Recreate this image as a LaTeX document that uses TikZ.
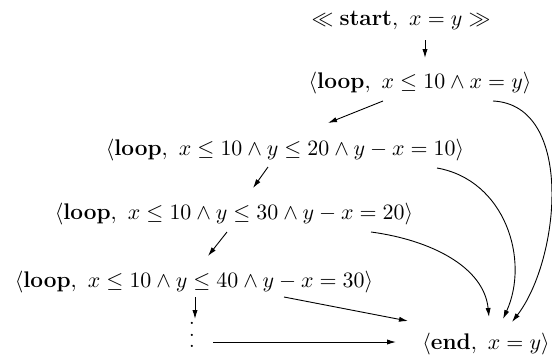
\documentclass[tikz,border=0pt]{standalone}
\usetikzlibrary{arrows.meta}
\begin{document}
\begin{tikzpicture}[x=0.5pt,y=-0.5pt,
  lbl/.style={inner sep=0pt, font=\fontsize{11.3}{14}\selectfont},
  dotcol/.style={inner sep=0pt, align=center, font=\fontsize{11.3}{5.8}\selectfont},
  arr/.style={-{Latex[length=4.5pt,width=2.6pt]}, line width=0.45pt}]
\useasboundingbox (0,0) rectangle (552,359);
\node[lbl] (start) at (401,20) {$\ll \mbox{\textbf{start}},\ x = y \gg$};
\node[lbl] (loop0) at (420,83) {$\langle \mbox{\textbf{loop}},\ x \leq 10 \wedge x = y\rangle$};
\node[lbl] (loop1) at (285,150) {$\langle \mbox{\textbf{loop}},\ x \leq 10 \wedge y \leq 20 \wedge y - x = 10\rangle$};
\node[lbl] (loop2) at (234,214) {$\langle \mbox{\textbf{loop}},\ x \leq 10 \wedge y \leq 30 \wedge y - x = 20\rangle$};
\node[lbl] (loop3) at (194,282) {$\langle \mbox{\textbf{loop}},\ x \leq 10 \wedge y \leq 40 \wedge y - x = 30\rangle$};
\node[lbl] (end) at (486,344) {$\langle \mbox{\textbf{end}},\ x = y\rangle$};
\node[dotcol] (dots) at (192,335) {.\\.\\.};
\draw[arr] ([shift={(24,20)}]start.center) -- ([shift={(5,-25)}]loop0.center);
\draw[arr] ([shift={(-37,18)}]loop0.center) -- ([shift={(43,-27)}]loop1.center);
\draw[arr] ([shift={(-17,17)}]loop1.center) -- ([shift={(19,-26)}]loop2.center);
\draw[arr] ([shift={(-7,18)}]loop2.center) -- ([shift={(14,-26)}]loop3.center);
\draw[arr] ([shift={(1,15)}]loop3.center) -- ([shift={(3,-16)}]dots.center);
\draw[arr] ([shift={(21,7)}]dots.center) -- ([shift={(-90,-2)}]end.center);
\draw[arr] ([shift={(90,15)}]loop3.center) -- ([shift={(-78,-23)}]end.center);
\draw[arr] ([shift={(137,18)}]loop2.center) .. controls +(60,8) and +(-5,-50) .. ([shift={(3,-27)}]end.center);
\draw[arr] ([shift={(152,18)}]loop1.center) .. controls +(68,12) and +(27,-59) .. ([shift={(17,-25)}]end.center);
\draw[arr] ([shift={(73,18)}]loop0.center) .. controls +(82,4) and +(48,-62) .. ([shift={(26,-22)}]end.center);
\end{tikzpicture}
\end{document}
